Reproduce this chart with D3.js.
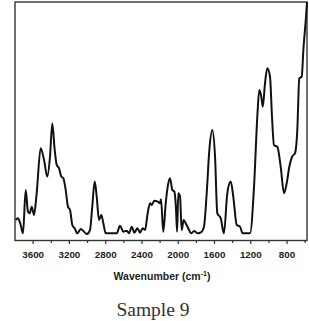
<!DOCTYPE html>
<html>
<head>
<meta charset="utf-8">
<script src="https://cdn.jsdelivr.net/npm/d3@7"></script>
<style>
    body { margin: 0; background: #fff; }
    svg { display: block; }
    .tick-label { font-family: "Liberation Sans", Arial, sans-serif; font-weight: bold; font-size: 9.8px; fill: #222; }
    .axis-title { font-family: "Liberation Sans", Arial, sans-serif; font-weight: bold; font-size: 10.5px; fill: #222; }
    .caption { font-family: "Liberation Serif", "Times New Roman", serif; font-size: 19.5px; fill: #333; }
</style>
</head>
<body>
<div id="chart"></div>
<script>
// spectrum (wavenumber in cm-1, relative intensity 0-100)
const wavenumber = [3792, 3767, 3737, 3712, 3682, 3657, 3638, 3616, 3590, 3561,
    3517, 3480, 3444, 3414, 3389, 3362, 3340, 3315, 3289, 3267,
    3241, 3216, 3193, 3168, 3142, 3113, 3075, 3039, 3009, 2973,
    2948, 2921, 2899, 2874, 2848, 2826, 2800, 2678, 2642, 2606,
    2568, 2543, 2513, 2484, 2451, 2421, 2392, 2366, 2337, 2311,
    2292, 2264, 2226, 2201, 2190, 2165, 2138, 2116, 2091, 2065,
    2043, 2024, 2013, 1999, 1980, 1962, 1940, 1918, 1889, 1859,
    1823, 1785, 1741, 1716, 1686, 1657, 1624, 1594, 1569, 1531,
    1496, 1459, 1421, 1393, 1355, 1319, 1289, 1208, 1164, 1128,
    1106, 1084, 1068, 1043, 1018, 988, 966, 944, 907, 870,
    833, 804, 775, 745, 712, 687, 665, 638, 620, 591, 580];
const intensity = [8.6, 9.3, 6.5, 3.0, 21.2, 12.1, 11.4, 14.2, 10.7, 19.8,
    38.7, 33.8, 26.8, 35.1, 49.1, 37.9, 31.7, 30.3, 26.8, 26.1,
    21.2, 14.2, 12.8, 6.5, 5.1, 3.0, 4.8, 3.7, 2.7, 4.4,
    14.2, 24.7, 18.4, 8.6, 10.7, 7.2, 3.0, 3.0, 6.2, 3.7,
    4.1, 3.0, 5.8, 3.3, 5.1, 3.3, 5.1, 4.4, 11.4, 15.6,
    14.9, 16.7, 16.3, 15.6, 17.3, 3.7, 15.6, 22.6, 26.1, 21.2,
    20.5, 12.8, 3.7, 19.8, 18.4, 4.4, 8.6, 7.2, 5.1, 3.0,
    4.0, 3.0, 3.7, 5.8, 19.8, 37.9, 46.3, 35.1, 11.4, 9.3,
    3.0, 19.8, 24.7, 18.4, 6.5, 5.8, 3.0, 3.0, 22.6, 51.9,
    63.1, 60.3, 56.1, 65.9, 72.2, 68.7, 51.9, 40.0, 39.3, 30.9,
    19.8, 24.0, 30.9, 35.1, 36.6, 46.3, 68.0, 68.7, 79.9, 93.8, 100];

const majorTicks = [3600, 3200, 2800, 2400, 2000, 1600, 1200, 800];
const minorTicks = [3400, 3000, 2600, 2200, 1800, 1400, 1000, 600];
const xDomain = [3800, 580];
const axisTitle = "Wavenumber (cm";
const axisTitleSup = "-1";
const caption = "Sample 9";

const width = 309, height = 321;
const box = { left: 15, right: 307, top: 2, bottom: 240.5 };

const svg = d3.select("#chart").append("svg")
    .attr("width", width)
    .attr("height", height);

const x = d3.scaleLinear().domain(xDomain).range([box.left, box.right]);
const y = d3.scaleLinear().domain([0, 100]).range([box.bottom, box.top]);

// frame
svg.append("rect")
    .attr("x", box.left)
    .attr("y", box.top)
    .attr("width", box.right - box.left)
    .attr("height", box.bottom - box.top)
    .attr("fill", "none")
    .attr("stroke", "#333")
    .attr("stroke-width", 1.4);

// bottom axis, ticks pointing out
const axis = svg.append("g").attr("transform", `translate(0,${box.bottom})`);
axis.selectAll("line.major")
    .data(majorTicks)
    .enter().append("line")
    .attr("class", "major")
    .attr("x1", d => x(d)).attr("x2", d => x(d))
    .attr("y1", 0).attr("y2", 3.5)
    .attr("stroke", "#333").attr("stroke-width", 1.2);
axis.selectAll("line.minor")
    .data(minorTicks.filter(d => d <= xDomain[0] && d >= xDomain[1]))
    .enter().append("line")
    .attr("class", "minor")
    .attr("x1", d => x(d)).attr("x2", d => x(d))
    .attr("y1", 0).attr("y2", 2.5)
    .attr("stroke", "#333").attr("stroke-width", 1.2);
axis.selectAll("text")
    .data(majorTicks)
    .enter().append("text")
    .attr("class", "tick-label")
    .attr("x", d => x(d))
    .attr("y", 17)
    .attr("text-anchor", "middle")
    .text(d => d);

// axis title with superscript
const title = svg.append("text")
    .attr("class", "axis-title")
    .attr("x", 162)
    .attr("y", 280)
    .attr("text-anchor", "middle");
title.append("tspan").text(axisTitle);
title.append("tspan").attr("font-size", "7px").attr("dy", -4.5).text(axisTitleSup);
title.append("tspan").attr("dy", 4.5).text(")");

// spectrum
const line = d3.line()
    .x((d, i) => x(wavenumber[i]))
    .y(d => y(d))
    .curve(d3.curveMonotoneX);

svg.append("path")
    .datum(intensity)
    .attr("fill", "none")
    .attr("stroke", "#111")
    .attr("stroke-width", 2)
    .attr("stroke-linejoin", "round")
    .attr("d", line);

// caption under the chart
svg.append("text")
    .attr("class", "caption")
    .attr("x", 153)
    .attr("y", 316)
    .attr("text-anchor", "middle")
    .text(caption);
</script>
</body>
</html>
